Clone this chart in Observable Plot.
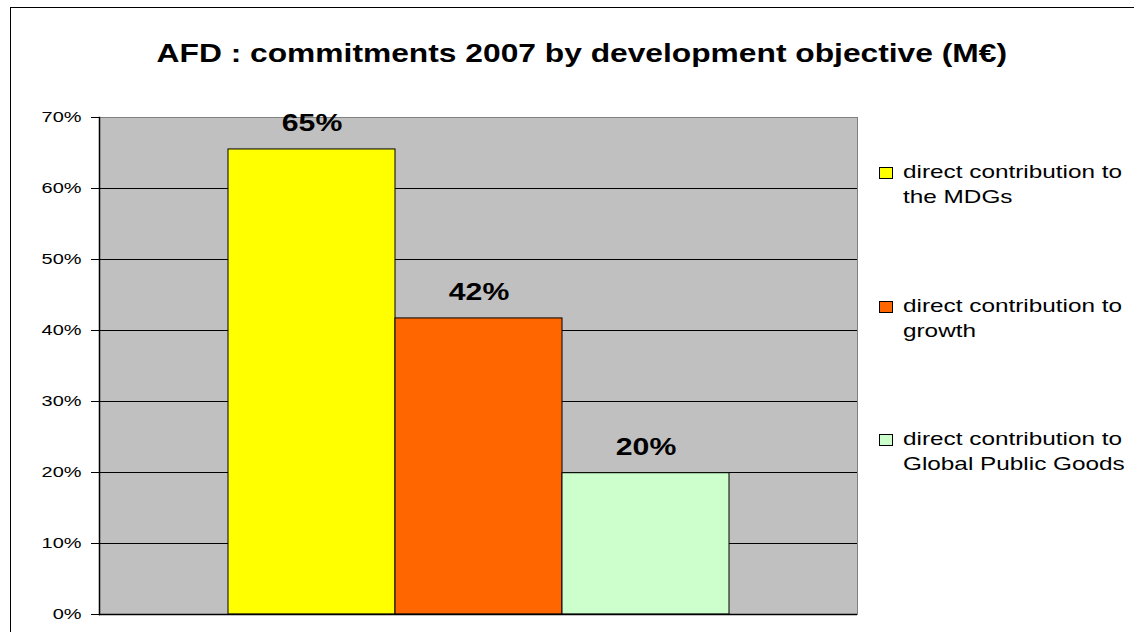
<!DOCTYPE html>
<html>
<head>
<meta charset="utf-8">
<script src="https://cdn.jsdelivr.net/npm/d3@7"></script>
<script src="https://cdn.jsdelivr.net/npm/@observablehq/plot@0.6"></script>
<style>
  html, body { margin: 0; padding: 0; background: #fff; overflow: hidden; }
  body { position: relative; width: 1134px; height: 632px; font-family: "Liberation Sans", Arial, sans-serif; }
  #frame { position: absolute; left: 10px; top: 7px; width: 1200px; height: 700px; border: 1.5px solid #000; box-sizing: border-box; }
  #title { position: absolute; left: 0; top: 41px; width: 1164px; text-align: center; line-height: 25px; height: 25px; }
  #title span { display: inline-block; font-size: 25px; font-weight: bold; transform: scaleX(1.27); transform-origin: center; white-space: nowrap; }
  #chart { position: absolute; left: 0; top: 100px; }
  .lg-item { position: absolute; left: 0; width: 1134px; height: 60px; }
  .lg-sw { position: absolute; left: 879px; top: 8px; width: 14px; height: 12px; border: 1px solid #000; box-sizing: border-box; }
  .lg-tx { position: absolute; left: 903px; top: 0; font-size: 19px; line-height: 25px; white-space: nowrap; transform: scaleX(1.28); transform-origin: left; }
</style>
</head>
<body>
<div id="frame"></div>
<div id="title"><span></span></div>
<div id="chart"></div>
<div id="legend"></div>
<script>
const titleText = "AFD : commitments 2007 by development objective (M€)";
const categories = [
  "direct contribution to the MDGs",
  "direct contribution to growth",
  "direct contribution to Global Public Goods"
];
const values = [0.655, 0.417, 0.199];
const valueLabels = ["65%", "42%", "20%"];
const yTicks = [0, 0.1, 0.2, 0.3, 0.4, 0.5, 0.6, 0.7];
const legendLines = [
  ["direct contribution to", "the MDGs"],
  ["direct contribution to", "growth"],
  ["direct contribution to", "Global Public Goods"]
];

const data = categories.map((c, i) => ({cat: c, value: values[i], label: valueLabels[i]}));

document.querySelector("#title span").textContent = titleText;

const chart = Plot.plot({
  width: 1134,
  height: 532,
  marginLeft: 99,
  marginRight: 277,
  marginTop: 17,
  marginBottom: 18,
  style: {fontFamily: "'Liberation Sans', Arial, sans-serif", color: "#000", background: "transparent"},
  x: {domain: categories, paddingInner: 0, paddingOuter: 0.756, axis: null},
  y: {domain: [0, 0.7], axis: null},
  color: {domain: categories, range: ["#FFFF00", "#FF6600", "#CCFFCC"]},
  marks: [
    Plot.frame({fill: "#C0C0C0", stroke: "#808080"}),
    Plot.ruleY(yTicks.filter(d => d > 0 && d < 0.7), {stroke: "#000", strokeWidth: 1}),
    Plot.barY(data, {x: "cat", y: "value", fill: "cat", stroke: "#000", strokeWidth: 1, inset: 0}),
    Plot.text(data, {x: "cat", y: "value", text: "label", dy: -26, fontSize: 24, fontWeight: "bold", fill: "#000", lineAnchor: "middle"}),
    Plot.ruleY([0], {stroke: "#000", strokeWidth: 1.5}),
    Plot.frame({anchor: "left", stroke: "#000", strokeWidth: 1.5}),
    Plot.axisY({ticks: yTicks, tickFormat: d3.format(".0%"), tickSize: 8, tickPadding: 10, fontSize: 15, stroke: "#000", fill: "#000", label: null})
  ]
});

// horizontal stretch of text to match the reference rendering
chart.querySelectorAll("text").forEach(t => {
  const g = t.closest("g[aria-label]");
  const lab = g ? g.getAttribute("aria-label") : "";
  const s = lab && lab.includes("tick") ? 1.33 : 1.26;
  const x = +t.getAttribute("x") || 0, y = +t.getAttribute("y") || 0;
  const tr = t.getAttribute("transform") || "";
  t.setAttribute("transform", `${tr} translate(${x},${y}) scale(${s},1) translate(${-x},${-y})`);
});

document.getElementById("chart").appendChild(chart);

const color = chart.scale("color");
const legend = document.getElementById("legend");
categories.forEach((c, i) => {
  const item = document.createElement("div");
  item.className = "lg-item";
  item.style.top = (159 + i * 133.5) + "px";
  const sw = document.createElement("div");
  sw.className = "lg-sw";
  sw.style.background = color.apply(c);
  const tx = document.createElement("div");
  tx.className = "lg-tx";
  tx.innerHTML = legendLines[i].join("<br>");
  item.appendChild(sw);
  item.appendChild(tx);
  legend.appendChild(item);
});
</script>
</body>
</html>
